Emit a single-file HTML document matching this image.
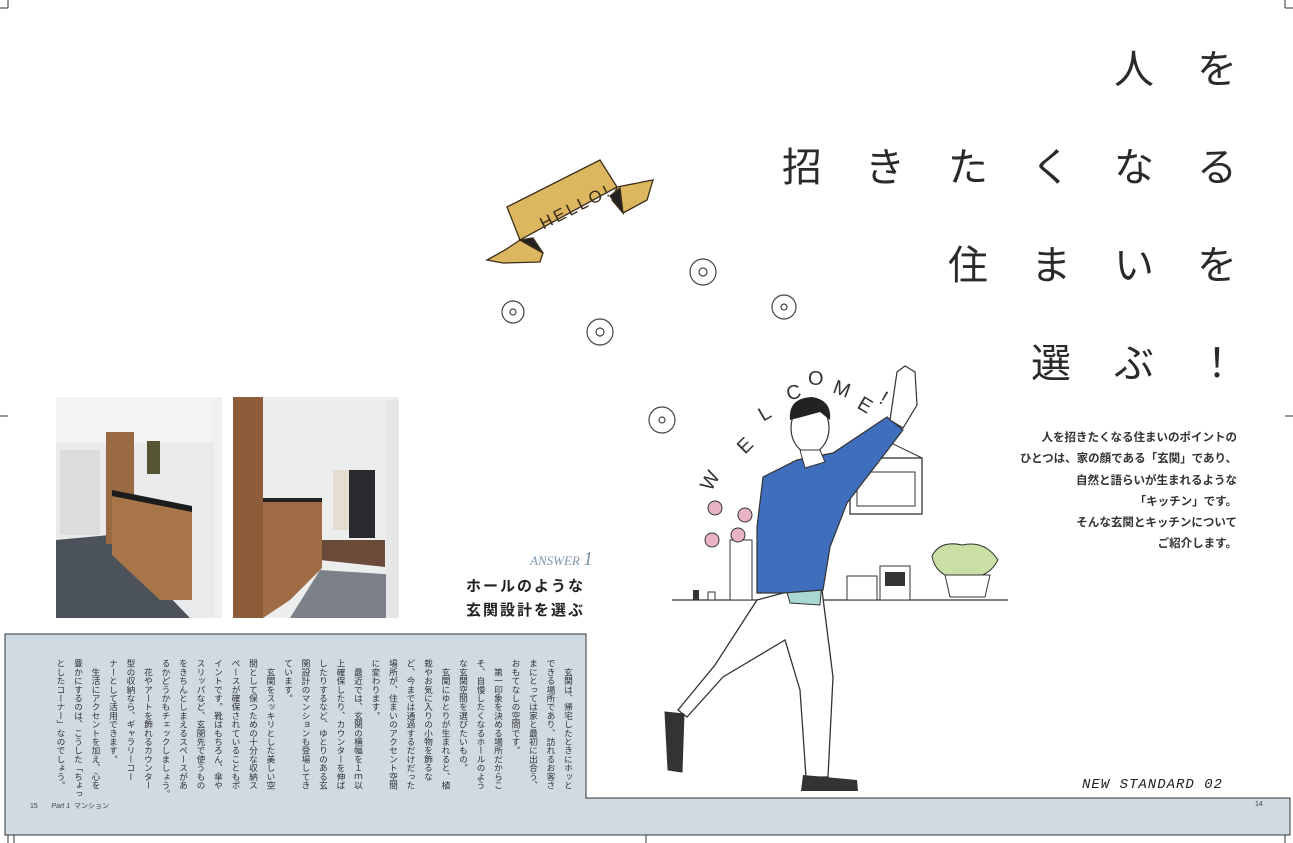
<!DOCTYPE html>
<html><head><meta charset="utf-8"><style>
*{margin:0;padding:0}
body{width:1293px;height:843px;background:#fff;position:relative;overflow:hidden;font-family:"Liberation Sans","Noto Sans CJK JP",sans-serif;color:#222}
.a{position:absolute}
.title{position:absolute;right:56px;font-size:40px;letter-spacing:43px;font-family:"Liberation Sans","Noto Sans CJK JP",sans-serif;color:#2a2a2a;white-space:nowrap;line-height:48px;margin-right:-43px}
.intro{position:absolute;right:56px;top:428px;text-align:right;font-size:11.5px;line-height:21.3px;font-weight:bold;color:#333}
.vt{position:absolute;right:717px;top:659px;height:150px;writing-mode:vertical-rl;font-size:8.7px;line-height:17.5px;color:#333;white-space:nowrap}
</style></head><body>
<svg class="a" style="left:0;top:0" width="1293" height="843">
<path d="M5 634 H586 V798 H1290 V835 H5 Z" fill="#cfdae3" stroke="#333" stroke-width="1"/>
<g stroke="#333" stroke-width="1">
<line x1="8" y1="0" x2="8" y2="8"/><line x1="0" y1="8" x2="8" y2="8"/>
<line x1="1285" y1="0" x2="1285" y2="8"/><line x1="1285" y1="8" x2="1293" y2="8"/>
<line x1="0" y1="416" x2="8" y2="416"/><line x1="1285" y1="416" x2="1293" y2="416"/>
<line x1="8" y1="835" x2="8" y2="843"/><line x1="14" y1="835" x2="14" y2="843"/>
<line x1="1285" y1="835" x2="1285" y2="843"/><line x1="646" y1="835" x2="646" y2="843"/>
</g>
<rect x="56" y="397" width="166" height="221" fill="#e9eaec"/>
<rect x="56" y="397" width="166" height="45" fill="#f3f3f3"/>
<rect x="60" y="450" width="40" height="85" fill="#dcdcdc"/>
<polygon points="56,540 110,535 190,618 56,618" fill="#4c525a"/>
<rect x="106" y="432" width="28" height="112" fill="#9a6a42"/>
<polygon points="112,492 192,510 192,600 160,600 112,555" fill="#a87548"/>
<polygon points="112,490 192,506 192,512 112,496" fill="#1c1c1c"/>
<rect x="147" y="441" width="13" height="33" fill="#553"/>
<rect x="214" y="397" width="8" height="221" fill="#f0f0f0"/>
<rect x="233" y="397" width="166" height="221" fill="#eceded"/>
<polygon points="320,570 399,575 399,618 290,618" fill="#7c8088"/>
<polygon points="322,540 385,540 385,567 320,560" fill="#6b4a3a"/>
<rect x="333" y="470" width="30" height="60" fill="#e4ddd0"/>
<rect x="349" y="470" width="26" height="68" fill="#2a2a2e"/>
<rect x="233" y="397" width="30" height="221" fill="#8f5c3a"/>
<polygon points="263,502 322,498 322,568 290,600 263,618" fill="#a06c45"/>
<rect x="263" y="498" width="59" height="4" fill="#222"/>
<rect x="386" y="400" width="13" height="218" fill="#e6e6e6"/>
<g stroke="#3a2e1a" stroke-width="1.3" fill="#ddb760">
<polygon points="520,240 543,253 540,262 503,263 487,260 505,250"/>
<polygon points="617,187 653,180 647,200 623,213 612,200"/>
<polygon points="507,207 600,160 617,187 520,240"/>
<polygon points="520,240 533,238 543,253" fill="#222"/>
<polygon points="610,196 620,188 623,213" fill="#222"/>
</g>
<text x="532" y="218" transform="rotate(-27 562 200)" font-family="Liberation Sans" font-size="17" fill="#3a2e1a" letter-spacing="3">HELLO!</text>
<g fill="none" stroke="#444" stroke-width="1.2">
<circle cx="703" cy="272" r="13"/><circle cx="703" cy="272" r="4"/>
<circle cx="600" cy="332" r="13"/><circle cx="600" cy="332" r="4"/>
<circle cx="513" cy="312" r="11"/><circle cx="513" cy="312" r="3"/>
<circle cx="784" cy="307" r="12"/><circle cx="784" cy="307" r="3"/>
<circle cx="662" cy="420" r="13"/><circle cx="662" cy="420" r="3"/>
</g>
<g font-family="Liberation Sans" font-size="20" fill="#333">
<text x="700" y="487" transform="rotate(-60 710 480)">W</text>
<text x="738" y="452" transform="rotate(-45 745 445)">E</text>
<text x="760" y="420" transform="rotate(-30 765 415)">L</text>
<text x="787" y="400" transform="rotate(-15 790 395)">C</text>
<text x="808" y="385">O</text>
<text x="833" y="395" transform="rotate(20 840 390)">M</text>
<text x="858" y="410" transform="rotate(30 862 405)">E</text>
<text x="880" y="405" transform="rotate(30 884 400)">!</text>
</g>
<line x1="672" y1="600" x2="1008" y2="600" stroke="#333" stroke-width="1.3"/>
<rect x="850" y="458" width="72" height="56" fill="#fff" stroke="#333" stroke-width="1.3"/>
<rect x="857" y="472" width="58" height="34" fill="none" stroke="#333"/>
<polygon points="850,458 885,440 922,458" fill="none" stroke="#333"/>
<rect x="847" y="576" width="30" height="24" fill="#fff" stroke="#333"/>
<rect x="880" y="566" width="30" height="34" fill="#fff" stroke="#333"/>
<rect x="885" y="572" width="20" height="14" fill="#333"/>
<path d="M932 556 Q940 540 962 545 Q985 540 998 560 Q990 575 975 577 L958 580 Q935 575 932 556Z" fill="#c9dfa4" stroke="#333"/>
<path d="M945 575 h45 l-5 22 h-35z" fill="#fff" stroke="#333"/>
<rect x="730" y="540" width="22" height="60" fill="#fff" stroke="#333"/>
<g fill="#e8b4c3" stroke="#333"><circle cx="715" cy="508" r="7"/><circle cx="745" cy="515" r="7"/><circle cx="712" cy="540" r="7"/><circle cx="738" cy="535" r="7"/></g>
<rect x="693" y="590" width="6" height="10" fill="#333"/><rect x="708" y="592" width="7" height="8" fill="#fff" stroke="#333"/>
<path d="M783 593 L822 590 L833 677 L828 777 L806 777 L800 690 L785 640 L723 677 L687 717 L678 710 L715 665 L757 600 Z" fill="#fff" stroke="#333" stroke-width="1.3"/>
<path d="M665 712 L684 714 L682 772 L668 770 Z" fill="#333" stroke="#333"/>
<path d="M803 775 L857 780 L858 791 L801 791 Z" fill="#333"/>
<polygon points="785,585 822,582 820,605 790,603" fill="#a9d8d3" stroke="#333"/>
<path d="M763 477 L797 460 L833 453 L887 417 L903 430 L880 460 L847 503 L830 547 L823 590 L783 593 L757 593 L757 527 Z" fill="#3f6fbc" stroke="#333" stroke-width="1.2"/>
<path d="M897 372 L905 366 L915 372 L917 405 L903 428 L890 420 Z" fill="#fff" stroke="#333" stroke-width="1.2"/>
<ellipse cx="810" cy="428" rx="19" ry="25" fill="#fff" stroke="#333" stroke-width="1.2"/>
<path d="M790 420 Q788 398 812 397 Q832 400 830 420 L820 412 L798 418 Z" fill="#222"/>
<polygon points="800,450 820,450 825,462 805,468" fill="#fff" stroke="#333"/>
</svg>

<div class="title" style="top:46px">人を</div>
<div class="title" style="top:144px">招きたくなる</div>
<div class="title" style="top:242px">住まいを</div>
<div class="title" style="top:340px">選ぶ！</div>

<div class="intro">人を招きたくなる住まいのポイントの<br>ひとつは、家の顔である「玄関」であり、<br>自然と語らいが生まれるような<br>「キッチン」です。<br>そんな玄関とキッチンについて<br>ご紹介します。</div>

<div class="a" style="left:530px;top:548px;font-size:13px;font-style:italic;color:#7f95a8;font-family:'Liberation Serif',serif">ANSWER <span style="font-size:20px">1</span></div>
<div class="a" style="right:708px;top:575px;font-size:15px;font-weight:bold;letter-spacing:2px;line-height:24px;text-align:right">ホールのような<br>玄関設計を選ぶ</div>

<div class="a" style="left:1082px;top:777px;font-size:14px;font-style:italic;font-family:'Liberation Mono',monospace;letter-spacing:1px;color:#222">NEW STANDARD 02</div>

<div class="vt">　玄関は、帰宅したときにホッと<br>できる場所であり、訪れるお客さ<br>まにとっては家と最初に出合う、<br>おもてなしの空間です。<br>　第一印象を決める場所だからこ<br>そ、自慢したくなるホールのよう<br>な玄関空間を選びたいもの。<br>　玄関にゆとりが生まれると、植<br>栽やお気に入りの小物を飾るな<br>ど、今までは通過するだけだった<br>場所が、住まいのアクセント空間<br>に変わります。<br>　最近では、玄関の横幅を１ｍ以<br>上確保したり、カウンターを伸ば<br>したりするなど、ゆとりのある玄<br>関設計のマンションも登場してき<br>ています。<br>　玄関をスッキリとした美しい空<br>間として保つための十分な収納ス<br>ペースが確保されていることもポ<br>イントです。靴はもちろん、傘や<br>スリッパなど、玄関先で使うもの<br>をきちんとしまえるスペースがあ<br>るかどうかもチェックしましょう。<br>　花やアートを飾れるカウンター<br>型の収納なら、ギャラリーコー<br>ナーとして活用できます。<br>　生活にアクセントを加え、心を<br>豊かにするのは、こうした「ちょっ<br>としたコーナー」なのでしょう。</div>

<div class="a" style="left:30px;top:801px;font-size:7px;color:#444">15 &nbsp;&nbsp;&nbsp;&nbsp;&nbsp;&nbsp;<i>Part 1</i> &nbsp;マンション</div>
<div class="a" style="left:1255px;top:801px;font-size:7px;color:#444">14</div>
</body></html>
